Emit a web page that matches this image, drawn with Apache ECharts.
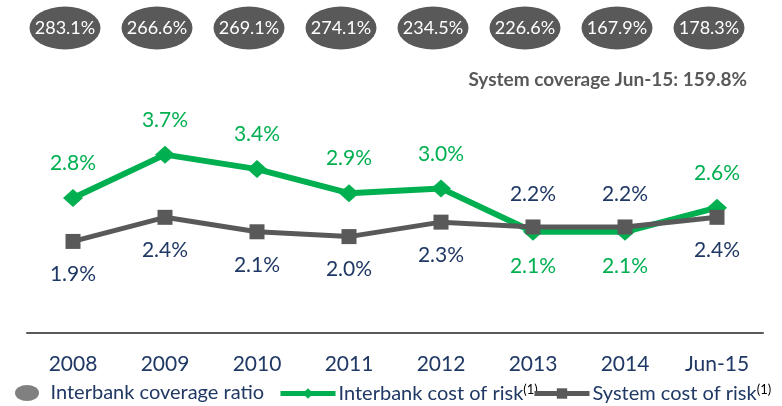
<!DOCTYPE html>
<html>
<head>
<meta charset="utf-8">
<script src="https://cdn.jsdelivr.net/npm/echarts@6/dist/echarts.min.js"></script>
<style>html,body{margin:0;padding:0;background:#fff}#c{width:782px;height:406px}</style>
</head>
<body>
<div id="c"></div>
<script>
const categories = ['2008','2009','2010','2011','2012','2013','2014','Jun-15'];
const coverageRatio = [283.1, 266.6, 269.1, 274.1, 234.5, 226.6, 167.9, 178.3];
const interbankCostOfRisk = [2.8, 3.7, 3.4, 2.9, 3.0, 2.1, 2.1, 2.6];
const systemCostOfRisk = [1.9, 2.4, 2.1, 2.0, 2.3, 2.2, 2.2, 2.4];
const systemCoverageNote = 'System coverage Jun-15: 159.8%';

const FONT = 'Lato';
const GREEN = '#00B050';
const GRAY = '#595959';
const NAVY = '#1F3864';

const chart = echarts.init(document.getElementById('c'));

// label above the point when this series is the higher one, below otherwise
function pointsWithLabels(values, other) {
  return values.map((v, i) => ({
    value: v,
    label: { position: v >= other[i] ? 'top' : 'bottom' }
  }));
}

const supRich = {
  main: { fontFamily: FONT, fontSize: 20, color: NAVY },
  sup: { fontFamily: FONT, fontSize: 13, color: '#000', verticalAlign: 'top', padding: [0, 0, 8, 0] }
};

chart.setOption({
  animation: false,
  textStyle: { fontFamily: FONT },
  grid: [
    { left: 27, right: 19, top: 92, bottom: 73 },
    { left: 27, right: 19, top: 0, height: 56 }
  ],
  xAxis: [
    {
      type: 'category', data: categories, gridIndex: 0,
      axisLine: { lineStyle: { color: GRAY, width: 2 } },
      axisTick: { show: false },
      axisLabel: { color: NAVY, fontSize: 21, fontFamily: FONT, margin: 21 }
    },
    { type: 'category', data: categories, gridIndex: 1, show: false }
  ],
  yAxis: [
    { type: 'value', min: 0, max: 5, gridIndex: 0, show: false, splitLine: { show: false } },
    { type: 'value', min: 0, max: 2, gridIndex: 1, show: false, splitLine: { show: false } }
  ],
  graphic: [{
    type: 'text', right: 35, top: 70,
    style: { text: systemCoverageNote, fontFamily: FONT, fontWeight: 'bold', fontSize: 19, fill: GRAY }
  }],
  legend: [
    {
      data: [{ name: 'Interbank coverage ratio', icon: 'path://M0,8 A12,8 0 1,0 24,8 A12,8 0 1,0 0,8 Z', itemStyle: { color: '#808080' } }],
      left: 15, top: 383, padding: 0, itemWidth: 25, itemHeight: 16,
      textStyle: { fontFamily: FONT, fontSize: 20, color: NAVY, padding: [0, 0, 0, 6] }
    },
    {
      data: ['Interbank cost of risk'],
      left: 278, top: 383, padding: 0, itemWidth: 55, itemHeight: 13,
      lineStyle: { width: 5 },
      formatter: n => '{main|' + n + '}{sup|(1)}',
      textStyle: { rich: supRich, padding: [0, 0, 0, -2] }
    },
    {
      data: ['System cost of risk'],
      left: 532, top: 383, padding: 0, itemWidth: 55, itemHeight: 13,
      lineStyle: { width: 5 },
      formatter: n => '{main|' + n + '}{sup|(1)}',
      textStyle: { rich: supRich, padding: [0, 0, 0, -2] }
    }
  ],
  series: [
    {
      name: 'Interbank coverage ratio', type: 'scatter', xAxisIndex: 1, yAxisIndex: 1,
      data: coverageRatio.map((v, i) => [i, 1, v]),
      symbol: 'circle', symbolSize: [71, 43], symbolOffset: [-8, 0],
      itemStyle: { color: GRAY, opacity: 1 },
      label: {
        show: true, position: 'inside', color: '#fff', fontSize: 18, fontFamily: FONT,
        formatter: p => p.value[2].toFixed(1) + '%'
      },
      silent: true
    },
    {
      name: 'Interbank cost of risk', type: 'line',
      data: pointsWithLabels(interbankCostOfRisk, systemCostOfRisk),
      symbol: 'diamond', symbolSize: [20, 18],
      lineStyle: { color: GREEN, width: 6 },
      itemStyle: { color: GREEN },
      label: {
        show: true, distance: 15, color: GREEN, fontSize: 21, fontFamily: FONT,
        formatter: p => p.value.toFixed(1) + '%'
      },
      z: 2
    },
    {
      name: 'System cost of risk', type: 'line',
      data: pointsWithLabels(systemCostOfRisk, interbankCostOfRisk),
      symbol: 'rect', symbolSize: 15,
      lineStyle: { color: GRAY, width: 5 },
      itemStyle: { color: GRAY },
      label: {
        show: true, distance: 15, color: NAVY, fontSize: 21, fontFamily: FONT,
        formatter: p => p.value.toFixed(1) + '%'
      },
      z: 3
    }
  ]
});
</script>
</body>
</html>
